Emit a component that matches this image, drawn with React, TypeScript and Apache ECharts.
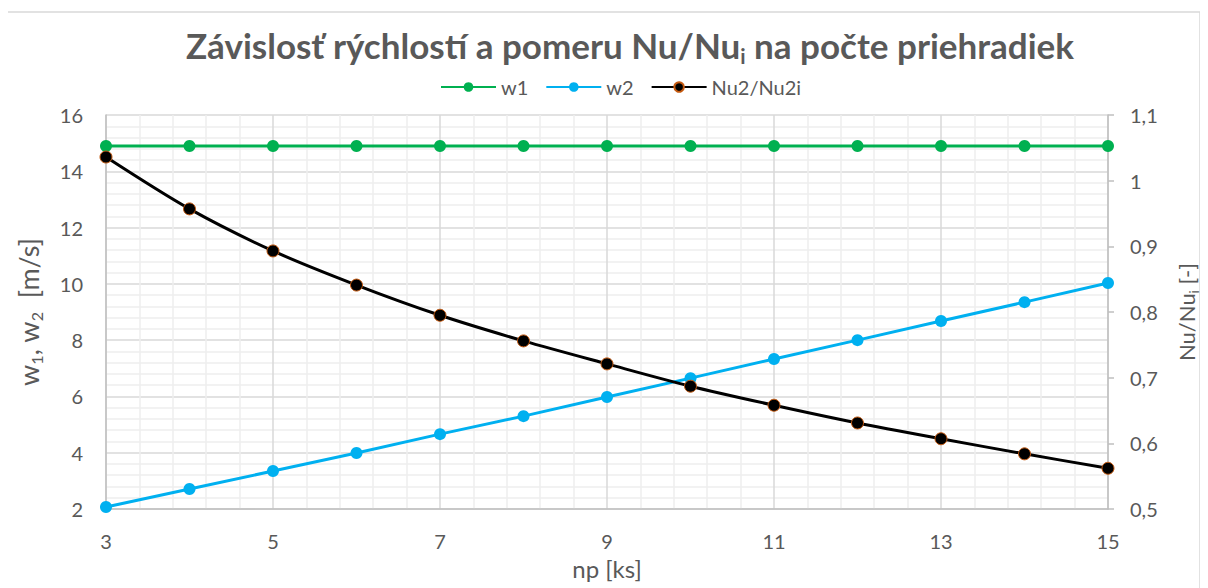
import React, { useEffect, useRef } from "react";
import * as echarts from "echarts";

const npValues = [3, 4, 5, 6, 7, 8, 9, 10, 11, 12, 13, 14, 15];
const w1Values = [14.9, 14.9, 14.9, 14.9, 14.9, 14.9, 14.9, 14.9, 14.9, 14.9, 14.9, 14.9, 14.9];
const w2Values = [2.07, 2.71, 3.35, 3.99, 4.66, 5.3, 5.98, 6.65, 7.33, 8.0, 8.68, 9.35, 10.03];
const nuValues = [1.036, 0.957, 0.893, 0.841, 0.795, 0.756, 0.721, 0.687, 0.658, 0.631, 0.607, 0.584, 0.562];
const seriesNames = ["w1", "w2", "Nu2/Nu2i"];

const FONT = "Lato";
const GREY = "#595959";

export default function App() {
  const ref = useRef<HTMLDivElement>(null);
  useEffect(() => {
    if (!ref.current) return;
    const chart = echarts.init(ref.current, null, { renderer: "svg" });
    const pair = (ys: number[]) => npValues.map((x, i) => [x, ys[i]]);
    chart.setOption({
      animation: false,
      backgroundColor: "#ffffff",
      textStyle: { fontFamily: FONT, color: GREY },
      title: {
        text: "{t|Závislosť rýchlostí a pomeru Nu/Nu}{s|i}{t| na počte priehradiek}",
        left: 625,
        top: 19,
        textAlign: "center",
        textStyle: {
          rich: {
            t: { fontFamily: FONT, fontSize: 35, fontWeight: "bold", color: GREY, lineHeight: 42 },
            s: { fontFamily: FONT, fontSize: 21, fontWeight: "bold", color: GREY, lineHeight: 21, verticalAlign: "bottom" },
          },
        },
      },
      legend: {
        top: 72,
        left: 435,
        itemWidth: 55,
        itemHeight: 12,
        itemGap: 17,
        textStyle: { fontFamily: FONT, fontSize: 20, color: GREY },
        data: seriesNames,
      },
      grid: { left: 106, right: 91, top: 115, bottom: 79, containLabel: false },
      xAxis: {
        type: "value",
        min: 3,
        max: 15,
        interval: 2,
        name: "np [ks]",
        nameLocation: "middle",
        nameGap: 47,
        nameTextStyle: { fontFamily: FONT, fontSize: 24, color: GREY },
        axisLine: { show: true, lineStyle: { color: "#bfbfbf", width: 1.5 } },
        axisTick: { show: false },
        axisLabel: { fontFamily: FONT, fontSize: 20, color: GREY, margin: 22 },
        splitLine: { show: true, lineStyle: { color: "#d9d9d9", width: 1.5 } },
        minorTick: { show: false, splitNumber: 5 },
        minorSplitLine: { show: true, lineStyle: { color: "#eeeeee", width: 1.5 } },
      },
      yAxis: [
        {
          type: "value",
          min: 2,
          max: 16,
          interval: 2,
          name: "{n|w}{s|1}{n|, w}{s|2}{n|  [m/s]}",
          nameLocation: "middle",
          nameRotate: 90,
          nameGap: 62,
          nameTextStyle: {
            rich: {
              n: { fontFamily: FONT, fontSize: 27, color: GREY, lineHeight: 32 },
              s: { fontFamily: FONT, fontSize: 16, color: GREY, lineHeight: 16, verticalAlign: "bottom" },
            },
          },
          axisLine: { show: true, lineStyle: { color: "#bfbfbf", width: 1.5 } },
          axisTick: { show: false },
          axisLabel: { fontFamily: FONT, fontSize: 20, color: GREY, margin: 23 },
          splitLine: { show: true, lineStyle: { color: "#d9d9d9", width: 1.5 } },
          minorTick: { show: false, splitNumber: 5 },
          minorSplitLine: { show: true, lineStyle: { color: "#eeeeee", width: 1.5 } },
        },
        {
          type: "value",
          min: 0.5,
          max: 1.1,
          interval: 0.1,
          position: "right",
          name: "{n|Nu/Nu}{s|i}{n| [-]}",
          nameLocation: "middle",
          nameRotate: 90,
          nameGap: 64,
          nameTextStyle: {
            rich: {
              n: { fontFamily: FONT, fontSize: 22, color: GREY, lineHeight: 28 },
              s: { fontFamily: FONT, fontSize: 13, color: GREY, lineHeight: 13, verticalAlign: "bottom" },
            },
          },
          axisLine: { show: true, lineStyle: { color: "#bfbfbf", width: 1.5 } },
          axisTick: { show: true, length: 6, lineStyle: { color: "#bfbfbf", width: 1.5 } },
          axisLabel: {
            fontFamily: FONT,
            fontSize: 20,
            color: GREY,
            margin: 22,
            formatter: (v: number) => String(Math.round(v * 10) / 10).replace(".", ","),
          },
          splitLine: { show: false },
        },
      ],
      series: [
        {
          name: seriesNames[0],
          type: "line",
          data: pair(w1Values),
          yAxisIndex: 0,
          symbol: "circle",
          symbolSize: 12,
          lineStyle: { color: "#00b050", width: 3 },
          itemStyle: { color: "#00b050" },
          z: 3,
        },
        {
          name: seriesNames[1],
          type: "line",
          data: pair(w2Values),
          yAxisIndex: 0,
          symbol: "circle",
          symbolSize: 12,
          lineStyle: { color: "#00b0f0", width: 3 },
          itemStyle: { color: "#00b0f0" },
          z: 3,
        },
        {
          name: seriesNames[2],
          type: "line",
          data: pair(nuValues),
          yAxisIndex: 1,
          smooth: 0.3,
          symbol: "circle",
          symbolSize: 12,
          lineStyle: { color: "#000000", width: 3 },
          itemStyle: { color: "#000000", borderColor: "#c55a11", borderWidth: 1 },
          z: 4,
        },
      ],
      graphic: [
        {
          type: "rect",
          shape: { x: 7, y: 12, width: 1193, height: 590 },
          style: { fill: "none", stroke: "#d9d9d9", lineWidth: 1.5 },
          silent: true,
        },
      ],
    });
    return () => chart.dispose();
  }, []);
  return <div ref={ref} style={{ width: 1208, height: 588, marginLeft: -8, marginTop: -8 }} />;
}
